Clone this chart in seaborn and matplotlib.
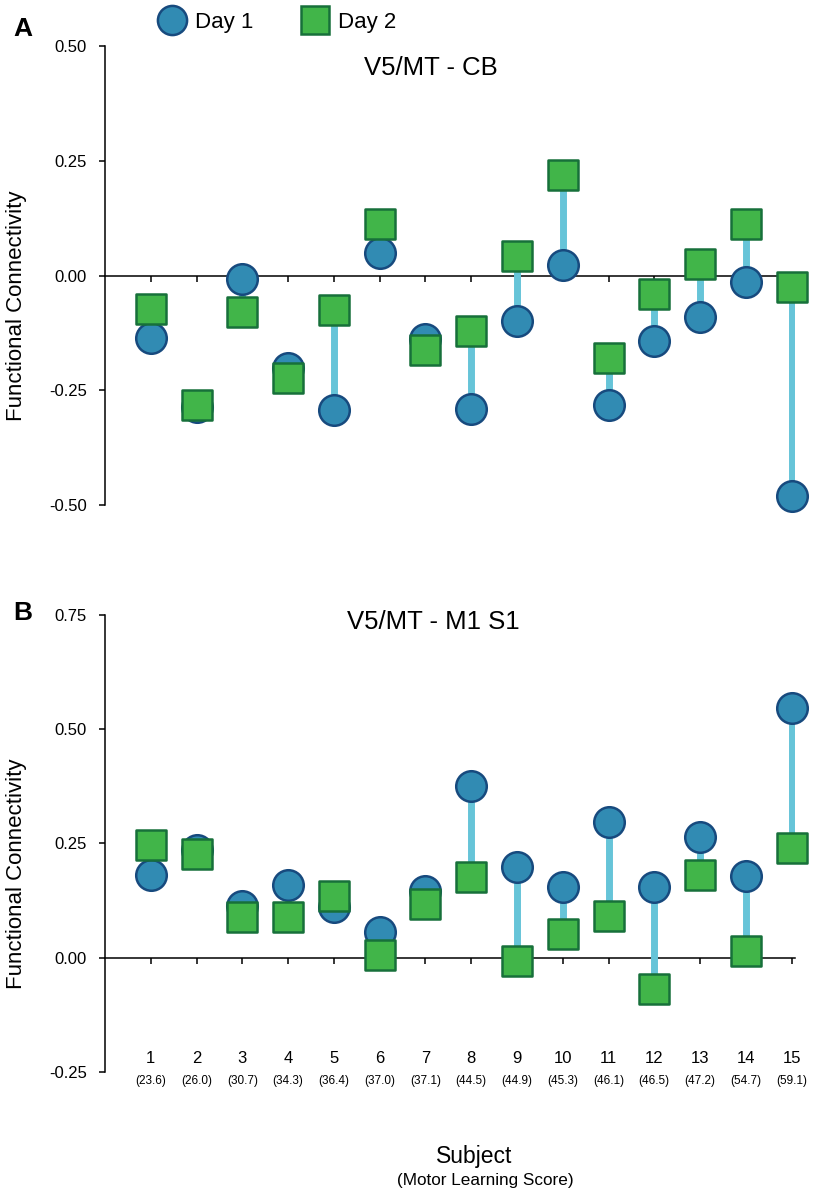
import matplotlib
matplotlib.use("Agg")
import matplotlib.pyplot as plt
import matplotlib.transforms as mtransforms
from matplotlib.lines import Line2D
import seaborn as sns
import pandas as pd

subjects = list(range(1, 16))
scores = ["(23.6)", "(26.0)", "(30.7)", "(34.3)", "(36.4)", "(37.0)", "(37.1)", "(44.5)",
          "(44.9)", "(45.3)", "(46.1)", "(46.5)", "(47.2)", "(54.7)", "(59.1)"]

# panel A: V5/MT - CB
cb_day1 = [-0.137, -0.287, -0.007, -0.202, -0.293, 0.050, -0.139, -0.291,
           -0.098, 0.022, -0.282, -0.143, -0.091, -0.015, -0.480]
cb_day2 = [-0.072, -0.283, -0.080, -0.224, -0.076, 0.113, -0.163, -0.120,
           0.043, 0.220, -0.180, -0.041, 0.026, 0.113, -0.024]
cb_ticks = [-0.50, -0.25, 0.00, 0.25, 0.50]

# panel B: V5/MT - M1 S1
m1_day1 = [0.182, 0.235, 0.114, 0.160, 0.110, 0.056, 0.145, 0.376,
           0.198, 0.155, 0.297, 0.155, 0.264, 0.179, 0.547]
m1_day2 = [0.246, 0.228, 0.088, 0.088, 0.134, 0.007, 0.118, 0.177,
           -0.008, 0.051, 0.092, -0.068, 0.181, 0.015, 0.240]
m1_ticks = [-0.25, 0.00, 0.25, 0.50, 0.75]

BLUE = "#318BB3"
BLUE_EDGE = "#174A7E"
GREEN = "#41B549"
GREEN_EDGE = "#17703A"
LINK = "#66C4D8"

sns.set_style("ticks")
plt.rcParams["font.family"] = ["Liberation Sans", "DejaVu Sans"]
plt.rcParams["text.color"] = "black"
plt.rcParams["axes.labelcolor"] = "black"
plt.rcParams["xtick.color"] = "black"
plt.rcParams["ytick.color"] = "black"


def draw_panel(ax, day1, day2, yticks, title, title_xy):
    df = pd.DataFrame({"subject": subjects, "day1": day1, "day2": day2})
    ax.vlines(df["subject"], df["day1"], df["day2"], color=LINK, lw=5, zorder=2.6)
    sns.scatterplot(data=df, x="subject", y="day1", marker="o", s=22 ** 2, color=BLUE,
                    edgecolor=BLUE_EDGE, linewidth=1.8, ax=ax, zorder=3, clip_on=False)
    sns.scatterplot(data=df, x="subject", y="day2", marker="s", s=21 ** 2, color=GREEN,
                    edgecolor=GREEN_EDGE, linewidth=1.8, ax=ax, zorder=4, clip_on=False)
    ax.set_xlim(0, 15.08)
    ax.set_ylim(yticks[0], yticks[-1])
    ax.set_yticks(yticks)
    ax.set_yticklabels(["%.2f" % t for t in yticks], fontsize=12)
    ax.set_xticks(subjects)
    ax.set_xticklabels([])
    ax.spines["top"].set_visible(False)
    ax.spines["right"].set_visible(False)
    ax.spines["bottom"].set_position(("data", 0))
    for sp in ["left", "bottom"]:
        ax.spines[sp].set_linewidth(1.1)
        ax.spines[sp].set_color("black")
    ax.tick_params(axis="y", length=4, width=1.1, pad=9, colors="black")
    ax.tick_params(axis="x", length=4, width=1.1, colors="black")
    ax.set_xlabel("")
    ax.set_ylabel("Functional Connectivity", fontsize=16)
    ax.yaxis.set_label_coords(-0.113, 0.434)
    ax.text(title_xy[0], title_xy[1], title, transform=ax.transAxes,
            ha="center", va="center", fontsize=18.5)


fig = plt.figure(figsize=(8.13, 11.9), dpi=100)
ax_a = fig.add_axes([0.1292, 0.5756, 0.849, 0.3857])
ax_b = fig.add_axes([0.1292, 0.0992, 0.849, 0.3840])

draw_panel(ax_a, cb_day1, cb_day2, cb_ticks, "V5/MT - CB", (0.472, 0.952))
draw_panel(ax_b, m1_day1, m1_day2, m1_ticks, "V5/MT - M1 S1", (0.475, 0.985))

fig.text(0.028, 0.976, "A", fontsize=19, fontweight="bold", va="center", ha="center")
fig.text(0.028, 0.485, "B", fontsize=19, fontweight="bold", va="center", ha="center")

# subject labels under panel B
trans = mtransforms.blended_transform_factory(ax_b.transData, fig.transFigure)
for s, sc in zip(subjects, scores):
    ax_b.text(s, 0.1109, str(s), transform=trans, ha="center", va="center", fontsize=12)
    ax_b.text(s, 0.0916, sc, transform=trans, ha="center", va="center", fontsize=8.5)
fig.text(474 / 813, 1 - 1156 / 1190, "Subject", ha="center", va="center", fontsize=16.5)
fig.text(485 / 813, 1 - 1181 / 1190, "(Motor Learning Score)", ha="center", va="center",
         fontsize=12.3)

handles = [
    Line2D([], [], ls="", marker="o", ms=21, mfc=BLUE, mec=BLUE_EDGE, mew=1.8),
    Line2D([], [], ls="", marker="s", ms=20, mfc=GREEN, mec=GREEN_EDGE, mew=1.8),
]
fig.legend(handles, ["Day 1", "Day 2"], loc="center left", bbox_to_anchor=(0.18, 0.9815),
           ncol=2, frameon=False, fontsize=16, handletextpad=0.3, columnspacing=2.0,
           handlelength=1.5, borderaxespad=0)

fig.savefig("out.png", dpi=100)
